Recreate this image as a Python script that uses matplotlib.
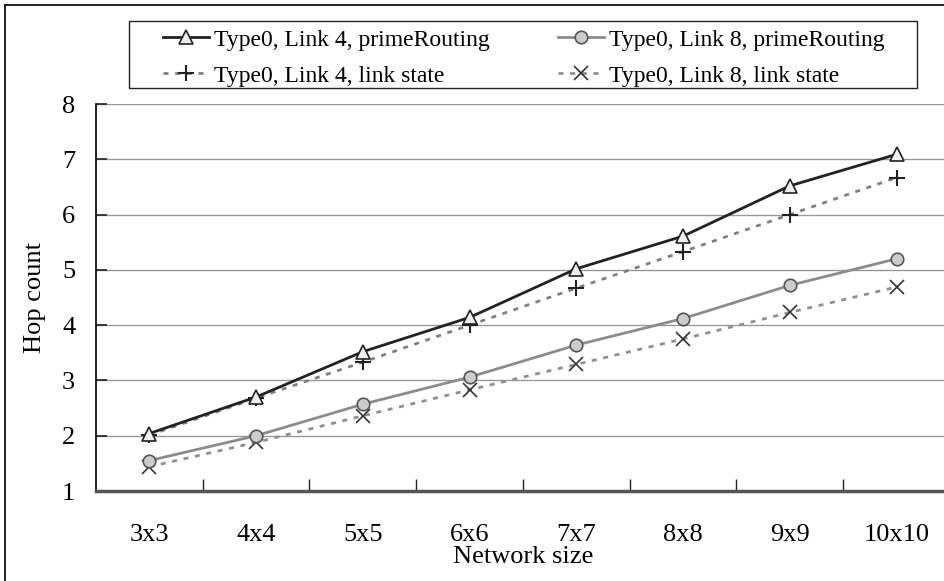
import numpy as np
import matplotlib
matplotlib.use("Agg")
import matplotlib.pyplot as plt
from matplotlib.lines import Line2D
from matplotlib.patches import Rectangle

plt.rcParams['font.family'] = ['Liberation Serif', 'DejaVu Serif']
plt.rcParams['font.size'] = 19

# data
sizes = ['3x3', '4x4', '5x5', '6x6', '7x7', '8x8', '9x9', '10x10']
link4_prime = [2.04, 2.70, 3.52, 4.14, 5.02, 5.61, 6.52, 7.09]
link4_ls = [2.01, 2.68, 3.33, 4.00, 4.67, 5.33, 6.00, 6.67]
link8_prime = [1.55, 2.00, 2.57, 3.06, 3.64, 4.12, 4.72, 5.20]
link8_ls = [1.44, 1.88, 2.36, 2.83, 3.29, 3.75, 4.23, 4.69]

W, H = 945, 581
fig = plt.figure(figsize=(W / 100, H / 100), dpi=100)
ax = fig.add_axes([96 / W, 1 - 491 / H, (950 - 96) / W, (491 - 104) / H])

x = np.arange(len(sizes))
dash = (0, (1.8, 2.4))

l1, = ax.plot(x, link4_prime, color='#222222', lw=2.0, marker='^', ms=10,
              mfc='#eeeeee', mec='#222222', mew=1.2,
              label='Type0, Link 4, primeRouting', zorder=4)
l2, = ax.plot(x, link4_ls, color='#808080', lw=2.0, ls=dash,
              marker='+', ms=11, mec='#222222', mew=1.5,
              label='Type0, Link 4, link state', zorder=3)
l3, = ax.plot(x, link8_prime, color='#8c8c8c', lw=2.0, marker='o', ms=9,
              mfc='#cccccc', mec='#555555', mew=1.2,
              label='Type0, Link 8, primeRouting', zorder=4)
l4, = ax.plot(x, link8_ls, color='#909090', lw=2.0, ls=dash,
              marker='x', ms=10, mec='#333333', mew=1.2,
              label='Type0, Link 8, link state', zorder=3)

ax.set_xlim(-0.5, len(sizes) - 0.5)
ax.set_ylim(1, 8)
ax.set_yticks(range(1, 9))
ax.set_xticks(x)
ax.set_xticklabels(sizes)
ax.set_xticks(x[:-1] + 0.5, minor=True)
ax.tick_params(axis='x', which='major', length=0, pad=24)
ax.tick_params(axis='x', which='minor', direction='in', length=9, width=1,
               color='#222222')
ax.tick_params(axis='y', direction='in', length=8, width=1.2, pad=15,
               color='#222222')

ax.grid(axis='y', color='#999999', lw=1)
ax.set_axisbelow(True)
for s in ['top', 'right']:
    ax.spines[s].set_visible(False)
ax.spines['left'].set_color('#111111')
ax.spines['left'].set_linewidth(1.3)
ax.spines['bottom'].set_color('#555555')
ax.spines['bottom'].set_linewidth(2.5)

ax.set_xlabel('Network size', labelpad=0)
ax.set_ylabel('Hop count', va='center')
ax.yaxis.set_label_coords((35 - 96) / 854, 0.5)

leg = fig.legend(handles=[l1, l2, l3, l4], ncol=2, fontsize=17,
                 loc='upper left', bbox_to_anchor=(163 / W, 1 - 29 / H),
                 frameon=False, handlelength=1.95,
                 handletextpad=0.21, columnspacing=2.9, labelspacing=0.62,
                 borderpad=0, borderaxespad=0)

# legend box drawn by hand (wider side padding than matplotlib allows)
fig.add_artist(Rectangle((129 / W, 1 - 88 / H), (917 - 129) / W, (88 - 21) / H,
                         fill=False, edgecolor='#222222', lw=1.0))

# figure border (cropped on right and bottom)
fig.add_artist(Line2D([5.5 / W, 5.5 / W], [0, 1 - 5 / H], color='black', lw=1.2))
fig.add_artist(Line2D([5.5 / W, 1], [1 - 5 / H, 1 - 5 / H], color='black', lw=1.2))

fig.savefig('out.png', dpi=100)
